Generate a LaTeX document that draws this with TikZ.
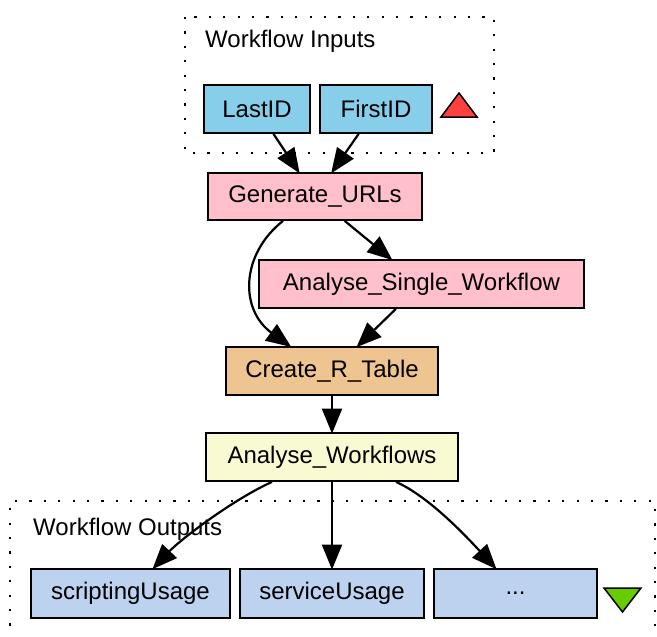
\documentclass[tikz,border=0pt]{standalone}
\usepackage{fontspec}
\setmainfont{Liberation Sans}
\usetikzlibrary{arrows.meta}

\definecolor{inputblue}{HTML}{87CEEB}
\definecolor{procpink}{HTML}{FFC0CB}
\definecolor{rtable}{HTML}{EEC591}
\definecolor{wfyellow}{HTML}{FAFAD2}
\definecolor{outblue}{HTML}{BCD2EE}
\definecolor{upred}{HTML}{FF4040}
\definecolor{downgreen}{HTML}{66CC00}

\tikzset{
  box/.style={draw=black, line width=1.8pt, minimum height=48pt, inner sep=0pt,
              font=\fontsize{24}{28}\selectfont},
  label/.style={inner sep=0pt, anchor=base west, font=\fontsize{24}{28}\selectfont},
  frame/.style={line width=2.2pt, dash pattern=on 2.2pt off 12.2pt},
  flow/.style={line width=2.2pt, shorten >=-1.5pt, -{Triangle[length=25pt,width=20pt]}},
  marker/.style={draw=black, line width=1.5pt, line join=miter},
}

\begin{document}
\begin{tikzpicture}[x=1pt,y=-1pt]
\useasboundingbox (0,0) rectangle (657,637);

% input and output frames
\draw[frame] (185,17) rectangle (494,153);
\draw[frame] (10,640) -- (10,501) -- (655,501) -- (655,640);
\node[label] (inlbl) at (205,48) {Workflow Inputs};
\node[label] (outlbl) at (33,535) {Workflow Outputs};

% workflow inputs
\node[box, fill=inputblue, minimum width=106pt] (last) at (257,109) {LastID};
\node[box, fill=inputblue, minimum width=112pt] (first) at (376,109) {FirstID};
\filldraw[marker, fill=upred] (459,93) -- (477,117) -- (441,117) -- cycle;

% processors
\node[box, fill=procpink, minimum width=214pt, minimum height=47pt] (gu) at (315,196.5) {Generate\_URLs};
\node[box, fill=procpink, minimum width=325pt] (asw) at (421.5,284) {Analyse\_Single\_Workflow};
\node[box, fill=rtable, minimum width=212pt] (crt) at (332,371) {Create\_R\_Table};
\node[box, fill=wfyellow, minimum width=252pt] (aw) at (332,457) {Analyse\_Workflows};

% workflow outputs
\node[box, fill=outblue, minimum width=199pt, minimum height=49pt] (su) at (130.5,593.5) {scriptingUsage};
\node[box, fill=outblue, minimum width=184pt, minimum height=49pt] (sv) at (332,593.5) {serviceUsage};
\node[box, fill=outblue, minimum width=163pt, minimum height=49pt] (more) at (515.5,593.5) {...};
\filldraw[marker, fill=downgreen] (604,588) -- (641,588) -- (622.5,612) -- cycle;

% data links
\draw[flow] (last) -- (gu);
\draw[flow] (first) -- (gu);
\draw[flow] (gu) -- (asw);
\draw[flow] ([xshift=-32pt]gu.south) .. controls (240,255) and (240,310) .. ([xshift=-42pt]crt.north);
\draw[flow] (asw) -- (crt);
\draw[flow] (crt) -- (aw);
\draw[flow] ([xshift=-60pt]aw.south) .. controls (232,500) and (180,540) .. ([xshift=23pt]su.north);
\draw[flow] (aw) -- (sv);
\draw[flow] ([xshift=64pt]aw.south) .. controls (428,496) and (465,535) .. ([xshift=-20pt]more.north);
\end{tikzpicture}
\end{document}
